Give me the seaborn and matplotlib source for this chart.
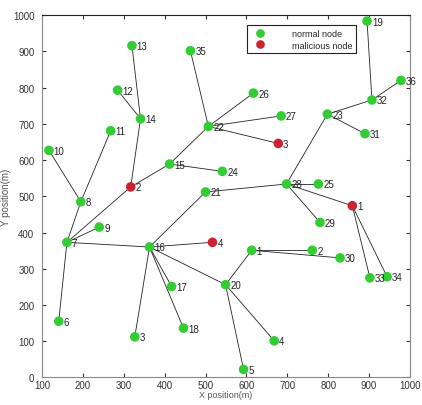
import pandas as pd
import matplotlib
matplotlib.use("Agg")
import matplotlib.pyplot as plt
import seaborn as sns

# normal nodes (id, x, y)
normal_ids = list(range(1, 37))
normal_x = [613, 761, 327, 668, 593, 141, 161, 195, 240, 117,
            268, 285, 320, 341, 412, 363, 417, 446, 895, 549,
            500, 507, 798, 541, 776, 617, 685, 698, 780, 829,
            890, 907, 902, 944, 463, 978]
normal_y = [351, 351, 112, 101, 22, 155, 373, 485, 415, 627,
            681, 793, 916, 714, 589, 360, 251, 136, 984, 256,
            512, 693, 727, 569, 534, 785, 722, 534, 428, 330,
            673, 766, 275, 278, 902, 820]

# malicious nodes
mal_ids = [1, 2, 3, 4]
mal_x = [859, 317, 678, 517]
mal_y = [474, 526, 646, 373]

# links ("n" = normal, "m" = malicious)
edges = [
    ("n6", "n7"), ("n7", "n8"), ("n8", "n10"), ("n8", "n11"), ("n7", "n9"),
    ("n7", "m2"), ("n7", "n16"),
    ("m2", "n14"), ("n14", "n13"), ("n14", "n12"), ("m2", "n15"),
    ("n15", "n22"), ("n15", "n24"),
    ("n22", "n35"), ("n22", "n26"), ("n22", "n27"), ("n22", "m3"),
    ("n16", "n21"), ("n16", "m4"), ("n16", "n17"), ("n16", "n18"),
    ("n16", "n3"), ("n16", "n20"),
    ("n21", "n28"),
    ("n20", "n1"), ("n20", "n4"), ("n20", "n5"),
    ("n1", "n2"), ("n1", "n30"),
    ("n28", "n25"), ("n28", "m1"), ("n28", "n29"), ("n28", "n23"),
    ("m1", "n33"), ("m1", "n34"),
    ("n23", "n32"), ("n23", "n31"), ("n32", "n19"), ("n32", "n36"),
]

pos = {}
for i, x, y in zip(normal_ids, normal_x, normal_y):
    pos[f"n{i}"] = (x, y)
for i, x, y in zip(mal_ids, mal_x, mal_y):
    pos[f"m{i}"] = (x, y)

df = pd.DataFrame({
    "x": normal_x + mal_x,
    "y": normal_y + mal_y,
    "id": normal_ids + mal_ids,
    "type": ["normal node"] * len(normal_ids) + ["malicious node"] * len(mal_ids),
})

sns.set_style("white")
plt.rcParams["font.family"] = ["Liberation Sans", "DejaVu Sans"]
plt.rcParams["xtick.direction"] = "in"
plt.rcParams["ytick.direction"] = "in"

fig = plt.figure(figsize=(4.22, 4.06), dpi=100)
ax = fig.add_axes([0.0995, 0.068, 0.872, 0.892])

for a, b in edges:
    (x1, y1), (x2, y2) = pos[a], pos[b]
    ax.plot([x1, x2], [y1, y2], color="#222222", lw=0.6, zorder=1)

sns.scatterplot(
    data=df, x="x", y="y", hue="type",
    hue_order=["normal node", "malicious node"],
    palette={"normal node": "#33cc33", "malicious node": "#cc2233"},
    s=48, edgecolor="none", zorder=3, ax=ax
)

for _, r in df.iterrows():
    ax.annotate(str(r["id"]), (r["x"], r["y"]), xytext=(3.5, -2.5),
                textcoords="offset points", fontsize=7, color="#222222")

ax.set_xlim(100, 1000)
ax.set_ylim(0, 1000)
ax.set_xticks(range(100, 1001, 100))
ax.set_yticks(range(0, 1001, 100))
ax.tick_params(labelsize=7, length=3, top=True, right=True,
               bottom=True, left=True, color="#333333", labelcolor="#333333")
ax.tick_params(axis="x", pad=2)
ax.tick_params(axis="y", pad=5.5)
for sp in ax.spines.values():
    sp.set_color("#888888")
    sp.set_linewidth(0.8)
ax.spines["top"].set_color("#222222")
ax.set_xlabel("X position(m)", fontsize=6.5, labelpad=0, color="#555555")
ax.set_ylabel("Y position(m)", fontsize=7, labelpad=1, color="#555555")

leg = ax.legend(loc="upper right", bbox_to_anchor=(0.865, 0.985), fontsize=6.5,
                fancybox=False, edgecolor="#222222", framealpha=1,
                handletextpad=2.5, borderpad=0.4, labelspacing=0.3,
                markerscale=0.9)
leg.get_frame().set_linewidth(0.8)

fig.savefig("out.png", dpi=100)
